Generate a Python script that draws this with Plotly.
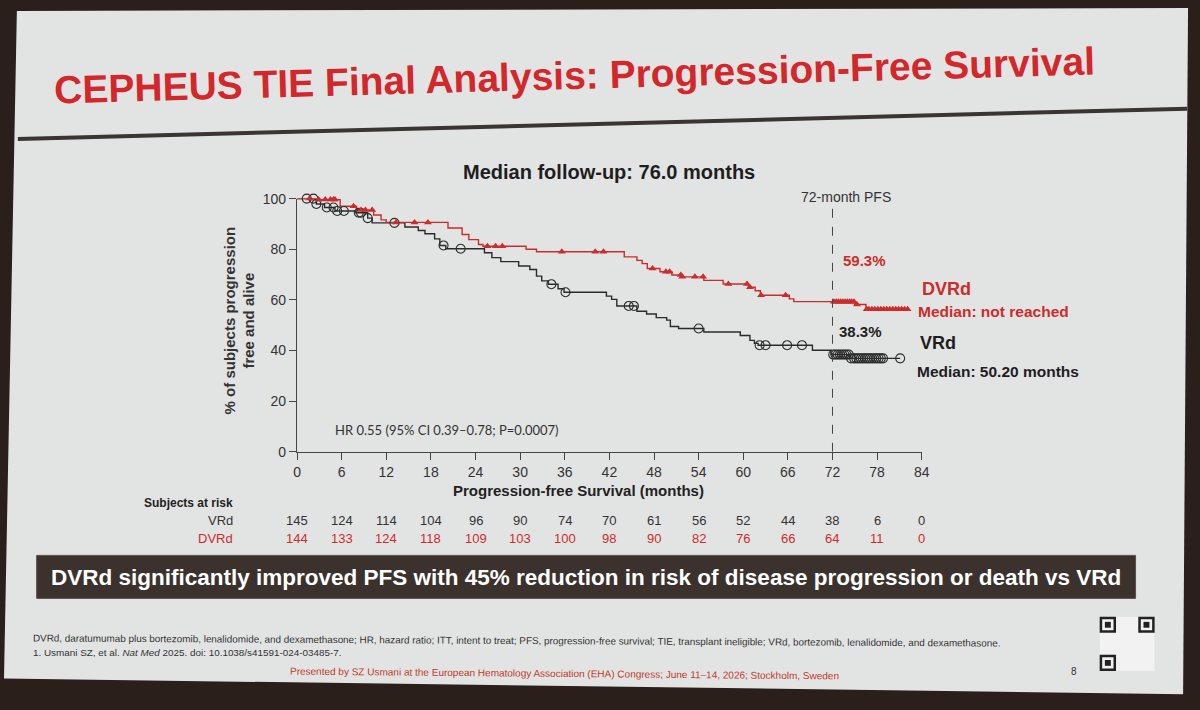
import plotly.graph_objects as go

# ---------------- data ----------------
vrd_time = [0, 2.6, 3.7, 5.1, 7.9, 9.5, 10.1, 14.5, 16.3, 17.2, 18.5, 19.2, 20.0,
            25.2, 26.2, 27.4, 29.8, 31.3, 32.2, 32.9, 33.8, 35.1, 35.9, 41.6, 42.3,
            43.0, 45.7, 47.0, 48.3, 49.7, 50.2, 51.3, 54.7, 59.6, 60.9, 61.5, 62.0,
            69.3, 71.8, 74.3, 81.1]
vrd_surv = [100, 97.9, 96.5, 95.1, 94.4, 92.3, 90.4, 88.8, 87.4, 86.1, 84.1, 81.5, 80.2,
            78.6, 76.7, 75.1, 73.4, 72.0, 69.4, 67.5, 66.2, 64.4, 63.0, 61.5, 60.2,
            57.6, 55.5, 54.4, 53.0, 52.0, 49.5, 48.7, 47.3, 45.9, 44.0, 42.8, 42.1,
            40.1, 38.4, 36.9, 36.9]
vrd_censor = [1.3, 2.2, 2.6, 4.0, 4.9, 5.4, 6.3, 8.3, 8.6, 9.5, 13.1, 19.7, 22.0, 34.2,
              36.1, 44.6, 45.3, 54.0, 62.2, 63.0, 65.9, 67.9, 72.1, 72.4, 72.7, 73.0,
              73.3, 73.6, 73.9, 74.2, 74.5, 74.9, 75.2, 75.5, 75.8, 76.1, 76.4, 76.7,
              77.0, 77.3, 77.6, 77.9, 78.2, 78.5, 78.8, 81.1]

dvrd_time = [0, 2.4, 5.8, 8.0, 10.3, 11.3, 12.0, 20.3, 22.2, 23.1, 24.4, 25.0, 30.8,
             32.2, 44.0, 45.7, 46.4, 47.1, 48.8, 50.4, 51.7, 54.7, 57.3, 60.7, 61.6,
             62.3, 66.2, 66.8, 75.0, 76.5, 82.1]
dvrd_surv = [100, 99.6, 97.0, 95.5, 93.5, 91.6, 90.6, 88.4, 85.8, 83.8, 81.9, 81.2, 80.0,
             79.0, 77.0, 75.6, 74.3, 72.4, 71.1, 69.8, 69.1, 67.7, 66.3, 65.0, 63.6,
             61.8, 60.4, 59.3, 58.2, 56.3, 56.3]
dvrd_censor = [1.7, 2.9, 3.8, 4.5, 4.9, 5.1, 7.6, 8.6, 9.2, 10.1, 13.3, 15.8, 17.6, 25.6,
               26.7, 27.6, 35.6, 40.1, 41.2, 47.8, 49.6, 50.1, 51.6, 51.8, 53.5, 54.6,
               58.0, 60.5, 60.9, 62.4, 65.7, 72.2, 72.5, 72.8, 73.1, 73.4, 73.7, 74.0,
               74.3, 74.6, 74.9, 75.3, 76.6, 76.9, 77.3, 77.7, 78.1, 78.5, 78.9, 79.3,
               79.7, 80.1, 80.5, 80.9, 81.3, 81.7, 82.1]

x_ticks = [0, 6, 12, 18, 24, 30, 36, 42, 48, 54, 60, 66, 72, 78, 84]
y_ticks = [0, 20, 40, 60, 80, 100]
risk_vrd = [145, 124, 114, 104, 96, 90, 74, 70, 61, 56, 52, 44, 38, 6, 0]
risk_dvrd = [144, 133, 124, 118, 109, 103, 100, 98, 90, 82, 76, 66, 64, 11, 0]

pfs72_vrd = 38.3
pfs72_dvrd = 59.3

# ---------------- style ----------------
W, H = 1200, 710
RED = "#cc2c2c"
BLACK = "#2b2b2b"
SLIDE = "#e2e4e3"
FONT = "Liberation Sans, Arial, sans-serif"
NARROW = "Liberation Sans Narrow, Arial Narrow, Liberation Sans, sans-serif"


def px(x):
    return x / W


def py(y):
    return 1 - y / H


def step_at(times, survs, t):
    val = survs[0]
    for ti, si in zip(times, survs):
        if ti <= t:
            val = si
    return val


fig = go.Figure()

fig.add_trace(go.Scatter(x=vrd_time, y=vrd_surv, mode="lines", line_shape="hv",
                         line=dict(color=BLACK, width=1.4), cliponaxis=False,
                         hoverinfo="skip", showlegend=False))
fig.add_trace(go.Scatter(x=dvrd_time, y=dvrd_surv, mode="lines", line_shape="hv",
                         line=dict(color=RED, width=1.4), cliponaxis=False,
                         hoverinfo="skip", showlegend=False))
fig.add_trace(go.Scatter(x=vrd_censor, y=[step_at(vrd_time, vrd_surv, t) for t in vrd_censor],
                         mode="markers", cliponaxis=False, showlegend=False, hoverinfo="skip",
                         marker=dict(symbol="circle-open", size=9, color=BLACK,
                                     line=dict(width=1.1, color=BLACK))))
fig.add_trace(go.Scatter(x=dvrd_censor, y=[step_at(dvrd_time, dvrd_surv, t) for t in dvrd_censor],
                         mode="markers", cliponaxis=False, showlegend=False, hoverinfo="skip",
                         marker=dict(symbol="triangle-up", size=7, color=RED)))


def poly(points):
    return "M " + " L ".join(f"{px(a):.5f},{py(b):.5f}" for a, b in points) + " Z"


shapes = [
    # slide (photographed, slightly skewed)
    dict(type="path", xref="paper", yref="paper",
         path=poly([(13, 3), (1196, 0), (1191, 702), (0, 686)]),
         fillcolor=SLIDE, line=dict(width=0), layer="below"),
    # separator line under title (photo tilt)
    dict(type="line", xref="paper", yref="paper", x0=px(14), x1=px(1195), y0=py(134), y1=py(103),
         line=dict(color="#3a3432", width=4)),
    # 72-month dashed line
    dict(type="line", xref="x", yref="y", x0=72, x1=72, y0=0, y1=96,
         line=dict(color="#444444", width=1, dash="dash")),
    # banner
    dict(type="rect", xref="paper", yref="paper", x0=px(33), x1=px(1143), y0=py(604), y1=py(560),
         fillcolor="#3b322d", line=dict(color="#5a504a", width=1)),
    # QR code placeholder
    dict(type="rect", xref="paper", yref="paper", x0=px(1107), x1=px(1162), y0=py(678), y1=py(623),
         fillcolor="#f2f2f2", line=dict(width=0)),
]
for (qx, qy) in [(1108, 624), (1147, 624), (1108, 663)]:
    shapes.append(dict(type="rect", xref="paper", yref="paper", x0=px(qx), x1=px(qx + 14),
                       y0=py(qy + 14), y1=py(qy), fillcolor="rgba(0,0,0,0)",
                       line=dict(color="#222", width=2.5)))
    shapes.append(dict(type="rect", xref="paper", yref="paper", x0=px(qx + 4), x1=px(qx + 10),
                       y0=py(qy + 10), y1=py(qy + 4), fillcolor="#222", line=dict(width=0)))

ann = []


def add(text, x, y, size, color=BLACK, bold=False, family=FONT, xanchor="center",
        angle=0, xref="paper"):
    ann.append(dict(text=f"<b>{text}</b>" if bold else text,
                    x=x if xref != "paper" else px(x), y=py(y), xref=xref, yref="paper",
                    showarrow=False, xanchor=xanchor, yanchor="middle", textangle=angle,
                    font=dict(size=size, color=color, family=family)))


add("CEPHEUS TIE Final Analysis: Progression-Free Survival", 576, 69, 39, "#d2282c",
    bold=True, angle=-1.6)
add("Median follow-up: 76.0 months", 611, 168, 20, "#1e1e1e", bold=True)
add("% of subjects progression<br>free and alive", 238, 320, 15, "#333", bold=True, angle=-90)
add("72-month PFS", 851, 193, 14, "#333")
add(f"{pfs72_dvrd}%", 869, 258, 15, RED, bold=True)
add(f"{pfs72_vrd}%", 865, 331, 15, "#222", bold=True)
add("DVRd", 925, 287, 18, RED, bold=True, xanchor="left")
add("Median: not reached", 921, 310, 15.5, RED, bold=True, xanchor="left")
add("VRd", 923, 343, 18, "#1e1e1e", bold=True, xanchor="left")
add("Median: 50.20 months", 920, 372, 15.5, "#1e1e1e", bold=True, xanchor="left")
add("HR 0.55 (95% CI 0.39–0.78; P=0.0007)", 332, 432, 13, "#333", family="Lato, Open Sans, sans-serif",
    xanchor="left")
add("Progression-free Survival (months)", 580, 494, 15, "#222", bold=True)
add("Subjects at risk", 233, 506, 12, "#222", bold=True, family=NARROW, xanchor="right")
add("VRd", 233, 524, 13, "#333", family=NARROW, xanchor="right")
add("DVRd", 233, 543, 13, RED, family=NARROW, xanchor="right")
for xt, a, b in zip(x_ticks, risk_vrd, risk_dvrd):
    add(str(a), xt, 524, 13, "#333", family=NARROW, xref="x")
    add(str(b), xt, 543, 13, RED, family=NARROW, xref="x")
add("DVRd significantly improved PFS with 45% reduction in risk of disease progression or death vs VRd",
    588, 583, 22.5, "#ffffff", bold=True)
add("DVRd, daratumumab plus bortezomib, lenalidomide, and dexamethasone; HR, hazard ratio; ITT, intent to treat; "
    "PFS, progression-free survival; TIE, transplant ineligible; VRd, bortezomib, lenalidomide, and dexamethasone.",
    27, 647, 9.9, "#333", family=NARROW, xanchor="left", angle=0.3)
add("1. Usmani SZ, et al. <i>Nat Med</i> 2025. doi: 10.1038/s41591-024-03485-7.", 27, 659, 9.9, "#333",
    family=NARROW, xanchor="left")
add("Presented by SZ Usmani at the European Hematology Association (EHA) Congress; June 11–14, 2026; Stockholm, Sweden",
    566, 681, 10, "#c0392b", family=NARROW, angle=0.5)
add("8", 1081, 679, 10, "#333", family=NARROW)

fig.update_layout(
    width=W, height=H, margin=dict(l=0, r=0, t=0, b=0),
    paper_bgcolor="#2a1f1a", plot_bgcolor="rgba(0,0,0,0)",
    shapes=shapes, annotations=ann, showlegend=False,
    xaxis=dict(domain=[px(296), px(927)], range=[0, 84], tickvals=x_ticks,
               showline=True, linecolor="#444", linewidth=1.2, ticks="outside", ticklen=7,
               tickcolor="#444", tickfont=dict(size=14, color="#333", family=FONT),
               showgrid=False, zeroline=False, fixedrange=True),
    yaxis=dict(domain=[py(454), py(195)], range=[0, 100], tickvals=y_ticks,
               showline=True, linecolor="#444", linewidth=1.2, ticks="outside", ticklen=7,
               tickcolor="#444", tickfont=dict(size=14, color="#333", family=FONT),
               showgrid=False, zeroline=False, fixedrange=True),
)

fig.write_html(
    "out.html",
    config={"displayModeBar": False, "staticPlot": True},
    post_script=(
        "var d=document.getElementById('{plot_id}');"
        "document.body.style.margin='0';document.body.style.padding='0';"
        "document.documentElement.style.overflow='hidden';"
        "document.documentElement.style.background='#2a1f1a';"
        "document.body.style.background='#2a1f1a';"
        "d.style.position='fixed';d.style.top='0';d.style.left='0';"
    ),
)
